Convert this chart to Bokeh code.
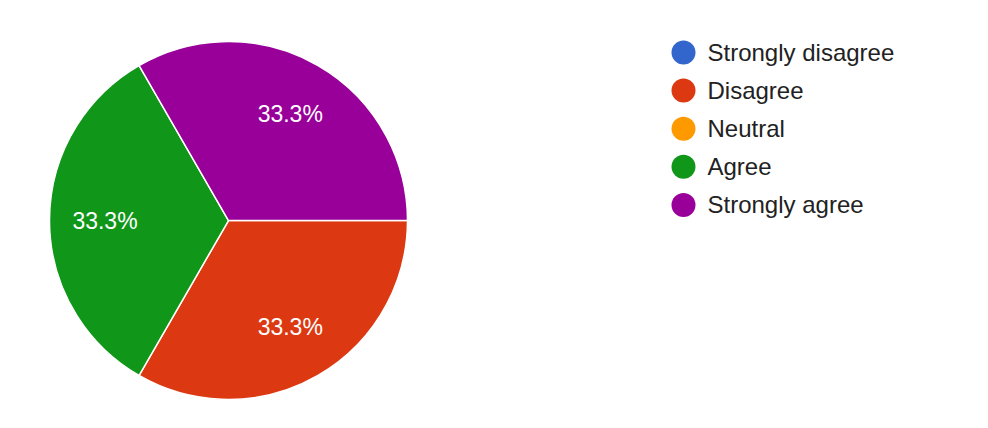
import math
from bokeh.plotting import figure
from bokeh.models import ColumnDataSource, Range1d
from bokeh.core.properties import value
from bokeh.embed import file_html
from bokeh.resources import INLINE

categories = ["Strongly disagree", "Disagree", "Neutral", "Agree", "Strongly agree"]
counts = [0, 1, 0, 1, 1]
colors = ["#3366cc", "#dc3912", "#ff9900", "#109618", "#990099"]

W, H = 980, 420
cx, cy, r = 228, H - 220, 179
label_r = 0.69 * r
FONT = "Liberation Sans"

total = sum(counts)
starts, ends, wcols, lx, ly, ltxt = [], [], [], [], [], []
cum = 0.0
for c, col in zip(counts, colors):
    frac = c / total
    a0 = -cum * 2 * math.pi
    a1 = -(cum + frac) * 2 * math.pi
    cum += frac
    if c == 0:
        continue
    starts.append(a0)
    ends.append(a1)
    wcols.append(col)
    mid = (a0 + a1) / 2
    lx.append(cx + label_r * math.cos(mid))
    ly.append(cy + label_r * math.sin(mid))
    ltxt.append(f"{frac*100:.1f}%")

p = figure(width=W, height=H, output_backend="svg", toolbar_location=None,
           x_range=Range1d(0, W), y_range=Range1d(0, H),
           min_border=0, outline_line_color=None)
p.axis.visible = False
p.grid.visible = False
p.background_fill_color = "white"

wsrc = ColumnDataSource(dict(start=starts, end=ends, color=wcols))
p.wedge(x=cx, y=cy, radius=r, start_angle="start", end_angle="end",
        direction="clock", fill_color="color", line_color="white",
        line_width=1.5, source=wsrc)

p.text(x=lx, y=ly, text=ltxt, text_color="white", text_align="center",
       text_baseline="middle", text_font=value(FONT), text_font_size="23px")

# legend
leg_x = 683
leg_y = [H - (52 + 38.1 * i) for i in range(len(categories))]
p.scatter(x=[leg_x] * len(categories), y=leg_y, size=24, marker="circle",
          fill_color=colors, line_color=None)
p.text(x=[leg_x + 24] * len(categories), y=leg_y, text=categories,
       text_color="#222222", text_align="left", text_baseline="middle",
       text_font=value(FONT), text_font_size="24px")

open("out.html", "w").write(file_html(p, INLINE))
